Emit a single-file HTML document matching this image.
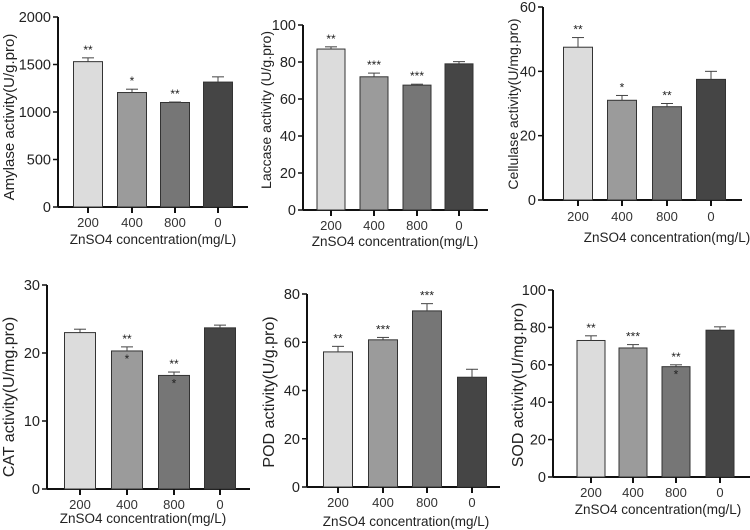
<!DOCTYPE html>
<html><head><meta charset="utf-8">
<style>
html,body{margin:0;padding:0;background:#fff;}
svg{display:block;font-family:"Liberation Sans",sans-serif;}
</style></head>
<body>
<svg id="fig" width="750" height="530" viewBox="0 0 750 530" xmlns="http://www.w3.org/2000/svg"></svg>
<script>
const categories = ["200","400","800","0"];
const amylaseValues = [1530,1205,1100,1315];
const amylaseErrors = [40,35,5,55];
const amylaseSig = ["**","*","**",""];
const amylaseTicks = [0,500,1000,1500,2000];
const laccaseValues = [87,72,67.5,79];
const laccaseErrors = [1.2,2,0.5,1.2];
const laccaseSig = ["**","***","***",""];
const laccaseTicks = [0,20,40,60,80,100];
const cellulaseValues = [47.5,31,29,37.5];
const cellulaseErrors = [3,1.5,1,2.5];
const cellulaseSig = ["**","*","**",""];
const cellulaseTicks = [0,20,40,60];
const catValues = [23,20.3,16.7,23.7];
const catErrors = [0.5,0.6,0.5,0.4];
const catSig = ["","**","**",""];
const catTicks = [0,10,20,30];
const podValues = [56,61,73,45.5];
const podErrors = [2.3,1,3,3.3];
const podSig = ["**","***","***",""];
const podTicks = [0,20,40,60,80];
const sodValues = [73,69,59,78.5];
const sodErrors = [2.5,1.8,1,1.8];
const sodSig = ["**","***","**",""];
const sodTicks = [0,20,40,60,80,100];

const fills = ["#dcdcdc","#9b9b9b","#767676","#454545"];
const NS = "http://www.w3.org/2000/svg";
const svg = document.getElementById("fig");
function mk(tag, attrs, parent){
  const e = document.createElementNS(NS, tag);
  for (const k in attrs) e.setAttribute(k, attrs[k]);
  (parent||svg).appendChild(e);
  return e;
}

function panel(p){
  const g = mk("g", {});
  
  
  const max = p.ticks[p.ticks.length-1];
  const y = v => p.y0 - (v/max)*(p.y0 - p.yTop);
  const x = i => p.xs[i];
  const ya = mk("line",{x1:p.ax,y1:p.yTop,x2:p.ax,y2:p.y0,stroke:"#111","stroke-width":2},g);
  
  
  p.ticks.forEach(t=>{
    mk("line",{x1:p.ax-5,y1:y(t),x2:p.ax,y2:y(t),stroke:"#111","stroke-width":1.5},g);
    const tl = mk("text",{x:p.ax-7,y:y(t)+5,"text-anchor":"end","font-size":14.5,fill:"#222"},g);
    tl.textContent = t;
    
    
  });
  const xa = mk("line",{x1:p.ax,y1:p.y0,x2:p.axEnd,y2:p.y0,stroke:"#111","stroke-width":2},g);
  
  
  const bw = p.bw;
  categories.forEach((c,i)=>{
    const v = p.values[i], e = p.errors[i];
    const bar = mk("rect",{x:x(i)-bw/2,y:y(v),width:bw,height:p.y0-y(v),fill:fills[i],stroke:"#333","stroke-width":1},g);
    
    
    mk("line",{x1:x(i),y1:y(v),x2:x(i),y2:y(v+e),stroke:"#444","stroke-width":1},g);
    mk("line",{x1:x(i)-6,y1:y(v+e),x2:x(i)+6,y2:y(v+e),stroke:"#444","stroke-width":1},g);
    mk("line",{x1:x(i),y1:p.y0,x2:x(i),y2:p.y0+6,stroke:"#111","stroke-width":2},g);
    const xl = mk("text",{x:x(i),y:p.labY,"text-anchor":"middle","font-size":13,fill:"#333"},g);
    xl.textContent = c;
    
    
    if (p.sig[i]){
      const s = mk("text",{x:x(i),y:y(v+e)-4,"text-anchor":"middle","font-size":12,fill:"#222"},g);
      s.textContent = p.sig[i];
      
      
      if (p.inner && p.inner[i]){
        const s2 = mk("text",{x:x(i),y:y(v)+12,"text-anchor":"middle","font-size":12,fill:"#222"},g);
        s2.textContent = "*";
        
        
      }
    }
  });
  const xt = mk("text",{x:p.xtX,y:p.xtY,"text-anchor":"middle","font-size":13.5,fill:"#222"},g);
  xt.textContent = "ZnSO4 concentration(mg/L)";
  
  
  const yt = mk("text",{x:0,y:0,"text-anchor":"middle","font-size":p.ytSize||15,fill:"#222",transform:`translate(${p.ytX},${p.ytY}) rotate(-90)`},g);
  yt.textContent = p.ytitle;
  
  
}

panel({name:"amylase",values:amylaseValues,errors:amylaseErrors,sig:amylaseSig,ticks:amylaseTicks,
  ax:58,yTop:17,y0:207,axEnd:248,xs:[88,132,175,218],bw:29,labY:227,xtX:153,xtY:244,
  ytitle:"Amylase activity(U/g.pro)",ytX:14,ytY:117});
panel({name:"laccase",values:laccaseValues,errors:laccaseErrors,sig:laccaseSig,ticks:laccaseTicks,
  ax:303,yTop:25,y0:210,axEnd:488,xs:[331,374,417,459],bw:28,labY:230,xtX:395,xtY:246,
  ytitle:"Laccase activity (U/g.pro)",ytSize:14,ytX:271,ytY:110});
panel({name:"cellulase",values:cellulaseValues,errors:cellulaseErrors,sig:cellulaseSig,ticks:cellulaseTicks,
  ax:543,yTop:7,y0:200,axEnd:742,xs:[578,622,667,711],bw:29,labY:221,xtX:667,xtY:242,
  ytitle:"Cellulase activity(U/mg.pro)",ytSize:14,ytX:518,ytY:104});
panel({name:"cat",values:catValues,errors:catErrors,sig:catSig,ticks:catTicks,inner:[false,true,true,false],
  ax:47,yTop:285,y0:489,axEnd:250,xs:[80,127,174,220],bw:31,labY:509,xtX:143,xtY:523,
  ytitle:"CAT activity(U/mg.pro)",ytSize:16,ytX:14,ytY:397});
panel({name:"pod",values:podValues,errors:podErrors,sig:podSig,ticks:podTicks,
  ax:307,yTop:294,y0:487,axEnd:500,xs:[338,383,427,472],bw:29,labY:507,xtX:406,xtY:526,
  ytitle:"POD activity(U/g.pro)",ytSize:16,ytX:274,ytY:392});
panel({name:"sod",values:sodValues,errors:sodErrors,sig:sodSig,ticks:sodTicks,inner:[false,false,true,false],
  ax:553,yTop:290,y0:477,axEnd:750,xs:[591,633,676,720],bw:28,labY:497,xtX:658,xtY:514,
  ytitle:"SOD activity(U/mg.pro)",ytSize:16,ytX:523,ytY:385});
</script>
</body></html>
